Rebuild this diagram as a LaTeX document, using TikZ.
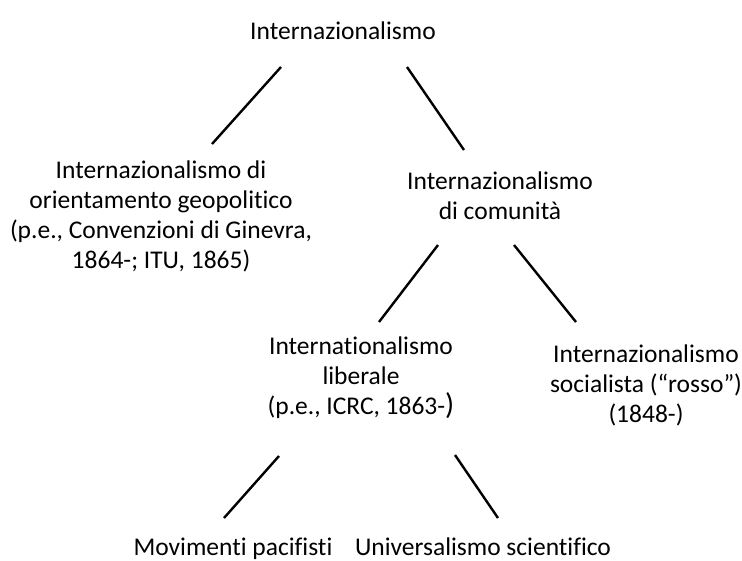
\documentclass[tikz,border=0pt]{standalone}
\usepackage{fontspec}
\setmainfont{Carlito}[Ligatures=NoCommon]
\begin{document}
\begin{tikzpicture}[x=1pt,y={(0pt,-1pt)},
  lbl/.style={inner sep=0pt,align=center,font=\fontsize{25.5}{30}\selectfont},
  br/.style={line width=2.4pt,line cap=butt}]
\useasboundingbox (0,0) rectangle (742,560);
\node[lbl] (top) at (343,31) {Internazionalismo};
\node[lbl] (geo) at (161,216) {Internazionalismo di\\orientamento geopolitico\\(p.e., Convenzioni di Ginevra,\\1864-; ITU, 1865)};
\node[lbl] (com) at (500,196) {Internazionalismo\\di comunità};
\node[lbl] (lib) at (361,378) {Internationalismo\\liberale\\(p.e., ICRC, 1863-{\fontsize{30}{30}\selectfont)}};
\node[lbl] (soc) at (646,385) {Internazionalismo\\socialista (“rosso”)\\(1848-)};
\node[lbl,anchor=base] (pac) at (233,555) {Movimenti pacifisti};
\node[lbl,anchor=base] (sci) at (483,555) {Universalismo scientifico};
\coordinate (a1) at (281,67);  \coordinate (a2) at (212,144);
\coordinate (b1) at (407,67);  \coordinate (b2) at (464,150);
\coordinate (c1) at (438,245); \coordinate (c2) at (379,322);
\coordinate (d1) at (514,245); \coordinate (d2) at (576,322);
\coordinate (e1) at (279,456); \coordinate (e2) at (224,518);
\coordinate (f1) at (455,455); \coordinate (f2) at (498,518);
\draw[br] (a1) -- (a2);
\draw[br] (b1) -- (b2);
\draw[br] (c1) -- (c2);
\draw[br] (d1) -- (d2);
\draw[br] (e1) -- (e2);
\draw[br] (f1) -- (f2);
\end{tikzpicture}
\end{document}
